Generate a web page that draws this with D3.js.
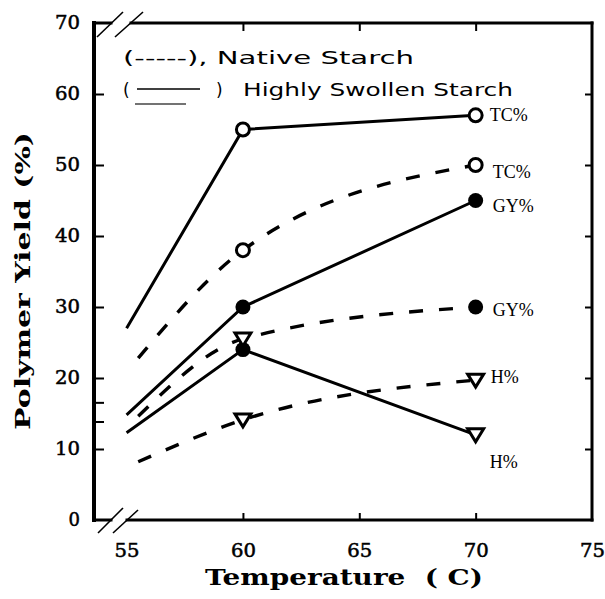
<!DOCTYPE html>
<html>
<head>
<meta charset="utf-8">
<script src="https://cdn.jsdelivr.net/npm/d3@7/dist/d3.min.js"></script>
<style>
  html, body { margin: 0; padding: 0; background: #fff; }
  svg { display: block; }
  text { white-space: pre; }
</style>
</head>
<body>
<div id="chart"></div>
<script>
// Polymer yield versus reaction temperature for native and highly swollen starch

// Temperatures (°C) where each curve is sampled; the first entry is where the curve begins
const swollenTemps = [55, 60, 70];
const nativeTemps  = [55.5, 60, 70];

// Yields (%) — highly swollen starch (solid lines)
const swollenTC = [27, 55, 57];
const swollenGY = [14.8, 30, 45];
const swollenH  = [12.3, 24, 12];

// Yields (%) — native starch (dashed lines)
const nativeTC = [22.8, 38, 50];
const nativeGY = [14.6, 25.5, 30];
const nativeH  = [8.2, 14.1, 19.7];

// Plot symbol drawn at each sampled point (null = no symbol)
const swollenTCMarks = [null, "open", "open"];
const swollenGYMarks = [null, "filled", "filled"];
const swollenHMarks  = [null, "filled", "triangle"];
const nativeTCMarks  = [null, "open", "open"];
const nativeGYMarks  = [null, "triangle", "filled"];
const nativeHMarks   = [null, "triangle", "triangle"];

// End-of-curve labels
const endLabels = ["TC%", "GY%", "H%", "TC%", "GY%", "H%"];

// Axis ticks
const xTicks = [55, 60, 65, 70, 75];
const yTicks = [0, 10, 20, 30, 40, 50, 60, 70];
const yMinorTicks = [13.8, 16.5];

// Legend entries
const legendNative = "(-----), Native Starch";
const legendSwollen = "Highly Swollen Starch";

const W = 605, H = 599;
const svg = d3.select("#chart").append("svg").attr("width", W).attr("height", H);

const x = d3.scaleLinear().domain([53.6, 75]).range([94, 592]);
const y = d3.scaleLinear().domain([0, 70]).range([520, 23]);

const series = [
  { temps: swollenTemps, vals: swollenTC, marks: swollenTCMarks, dashed: false, label: endLabels[0], ldx: 14, ldy: 6 },
  { temps: swollenTemps, vals: swollenGY, marks: swollenGYMarks, dashed: false, label: endLabels[1], ldx: 17, ldy: 11 },
  { temps: swollenTemps, vals: swollenH,  marks: swollenHMarks,  dashed: false, label: endLabels[2], ldx: 14, ldy: 33 },
  { temps: nativeTemps,  vals: nativeTC,  marks: nativeTCMarks,  dashed: true,  label: endLabels[3], ldx: 17, ldy: 13 },
  { temps: nativeTemps,  vals: nativeGY,  marks: nativeGYMarks,  dashed: true,  label: endLabels[4], ldx: 17, ldy: 9 },
  { temps: nativeTemps,  vals: nativeH,   marks: nativeHMarks,   dashed: true,  label: endLabels[5], ldx: 15, ldy: 3 }
];

const ink = "#000";

// ---- axes (ticks point into the plot) ----
const tickFont = "'DejaVu Serif', serif";

const gLeft = svg.append("g").attr("transform", `translate(${x.range()[0]},0)`)
  .call(d3.axisLeft(y).tickValues(yTicks).tickSizeInner(-10).tickSizeOuter(0).tickPadding(14).tickFormat(d3.format("d")));
const gBottom = svg.append("g").attr("transform", `translate(0,${y.range()[0]})`)
  .call(d3.axisBottom(x).tickValues(xTicks).tickSizeInner(-7).tickSizeOuter(0).tickPadding(24).tickFormat(d3.format("d")));
const gTop = svg.append("g").attr("transform", `translate(0,${y.range()[1]})`)
  .call(d3.axisTop(x).tickValues(xTicks).tickSizeInner(-8).tickSizeOuter(0).tickFormat(""));
const gRight = svg.append("g").attr("transform", `translate(${x.range()[1]},0)`)
  .call(d3.axisRight(y).tickValues(yTicks).tickSizeInner(-7).tickSizeOuter(0).tickFormat(""));

[gLeft, gBottom, gTop, gRight].forEach(g => {
  g.select(".domain").remove();
  g.selectAll(".tick line").attr("stroke", ink).attr("stroke-width", 2);
  g.selectAll("text").attr("fill", ink).attr("font-family", tickFont)
    .attr("font-size", 18).attr("stroke", ink).attr("stroke-width", 0.5)
    .attr("textLength", 25).attr("lengthAdjust", "spacingAndGlyphs");
});
// first and last ticks sit on the frame / axis break
[gBottom, gTop].forEach(g => g.selectAll(".tick line").filter(d => d === 55 || d === 75).remove());
[gLeft, gRight].forEach(g => g.selectAll(".tick line").filter(d => d === 0 || d === 70).remove());
gLeft.selectAll(".tick text").filter(d => d < 10).attr("textLength", null);

svg.append("g").selectAll("line").data(yMinorTicks).join("line")
  .attr("x1", x.range()[0]).attr("x2", x.range()[0] + 10)
  .attr("y1", d => y(d)).attr("y2", d => y(d))
  .attr("stroke", ink).attr("stroke-width", 2);

// ---- frame with axis breaks ----
const x0 = x.range()[0], x1 = x.range()[1], yb = y.range()[0], yt = y.range()[1];
const frame = svg.append("g").attr("stroke", ink).attr("fill", "none").attr("stroke-linecap", "square");
frame.append("line").attr("x1", x0).attr("x2", x0).attr("y1", yt).attr("y2", yb).attr("stroke-width", 4);
frame.append("line").attr("x1", x1).attr("x2", x1).attr("y1", yt).attr("y2", yb).attr("stroke-width", 3);
frame.append("line").attr("x1", x0).attr("x2", x0 + 17).attr("y1", yt).attr("y2", yt).attr("stroke-width", 3);
frame.append("line").attr("x1", x0 + 37).attr("x2", x1).attr("y1", yt).attr("y2", yt).attr("stroke-width", 3);
frame.append("line").attr("x1", x0).attr("x2", x0 + 17).attr("y1", yb).attr("y2", yb).attr("stroke-width", 3);
frame.append("line").attr("x1", x0 + 33).attr("x2", x1).attr("y1", yb).attr("y2", yb).attr("stroke-width", 3);
// break slashes
const slashes = [
  [x0 + 3, yt + 14, x0 + 29, yt - 11],
  [x0 + 21, yt + 14, x0 + 49, yt - 11],
  [x0 + 4, yb + 13, x0 + 29, yb - 12],
  [x0 + 19, yb + 13, x0 + 44, yb - 10]
];
frame.selectAll(".slash").data(slashes).join("line").attr("class", "slash")
  .attr("x1", d => d[0]).attr("y1", d => d[1]).attr("x2", d => d[2]).attr("y2", d => d[3])
  .attr("stroke-width", 1.6).attr("stroke-linecap", "butt");

// ---- curves ----
const solidLine = d3.line().x(d => x(d.t)).y(d => y(d.v)).curve(d3.curveLinear);
const dashedLine = d3.line().x(d => x(d.t)).y(d => y(d.v)).curve(d3.curveMonotoneX);

const curves = svg.append("g").attr("fill", "none").attr("stroke", ink);
series.forEach(s => {
  const pts = s.temps.map((t, i) => ({ t, v: s.vals[i] }));
  curves.append("path")
    .attr("d", (s.dashed ? dashedLine : solidLine)(pts))
    .attr("stroke-width", s.dashed ? 3.4 : 3)
    .attr("stroke-dasharray", s.dashed ? "14,16" : null);
});

// ---- symbols ----
const sym = svg.append("g");
series.forEach(s => {
  s.temps.forEach((t, i) => {
    const m = s.marks[i];
    if (!m) return;
    const cx = x(t), cy = y(s.vals[i]);
    if (m === "open") {
      sym.append("circle").attr("cx", cx).attr("cy", cy).attr("r", 6.5)
        .attr("fill", "#fff").attr("stroke", ink).attr("stroke-width", 3);
    } else if (m === "filled") {
      sym.append("circle").attr("cx", cx).attr("cy", cy).attr("r", 7.5).attr("fill", ink);
    } else {
      sym.append("path")
        .attr("d", `M${cx - 8},${cy - 6} L${cx + 8},${cy - 6} L${cx},${cy + 7} Z`)
        .attr("fill", "#fff").attr("stroke", ink).attr("stroke-width", 3).attr("stroke-linejoin", "miter");
    }
  });
});

// ---- end labels ----
svg.append("g").selectAll("text").data(series).join("text")
  .attr("x", s => x(s.temps[s.temps.length - 1]) + s.ldx)
  .attr("y", s => y(s.vals[s.vals.length - 1]) + s.ldy)
  .attr("font-family", "'Liberation Serif', serif").attr("font-size", 18)
  .attr("fill", ink).text(s => s.label);

// ---- legend ----
const lg = svg.append("g").attr("font-family", "'DejaVu Sans', sans-serif").attr("font-size", 17).attr("fill", ink);
lg.append("text").attr("x", 123).attr("y", 64).attr("textLength", 291).attr("lengthAdjust", "spacingAndGlyphs").text(legendNative);
lg.append("text").attr("x", 123).attr("y", 96).text("(");
lg.append("line").attr("x1", 137).attr("x2", 200).attr("y1", 89).attr("y2", 89).attr("stroke", ink).attr("stroke-width", 1.6);
lg.append("text").attr("x", 216).attr("y", 96).text(")");
lg.append("text").attr("x", 243).attr("y", 96).attr("textLength", 270).attr("lengthAdjust", "spacingAndGlyphs").text(legendSwollen);
lg.append("line").attr("x1", 135).attr("x2", 186).attr("y1", 104).attr("y2", 104).attr("stroke", "#444").attr("stroke-width", 1.5);

// ---- axis titles ----
const titleFont = "'DejaVu Serif', serif";
svg.append("text")
  .attr("transform", "translate(30,281) rotate(-90)")
  .attr("text-anchor", "middle")
  .attr("font-family", titleFont).attr("font-weight", "bold").attr("font-size", 21)
  .attr("textLength", 298).attr("lengthAdjust", "spacingAndGlyphs")
  .attr("fill", ink).text("Polymer Yield (%)");
svg.append("text")
  .attr("x", 205).attr("y", 585)
  .attr("font-family", titleFont).attr("font-weight", "bold").attr("font-size", 22)
  .attr("textLength", 278).attr("lengthAdjust", "spacingAndGlyphs")
  .attr("fill", ink).text("Temperature  ( C)");
</script>
</body>
</html>
